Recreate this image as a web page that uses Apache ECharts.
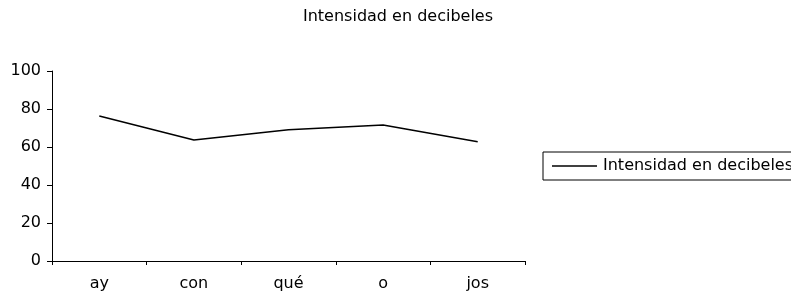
<!DOCTYPE html>
<html>
<head>
<meta charset="utf-8">
<script src="https://cdn.jsdelivr.net/npm/echarts@6/dist/echarts.min.js"></script>
<style>
  html, body { margin: 0; padding: 0; background: #fff; }
  #chart { width: 791px; height: 295px; }
</style>
</head>
<body>
<div id="chart"></div>
<script>
const title = 'Intensidad en decibeles'
const seriesName = 'Intensidad en decibeles'
const categories = ['ay', 'con', 'qué', 'o', 'jos']
const values = [76.3, 63.7, 69.1, 71.6, 62.8]
const yTicks = [0, 20, 40, 60, 80, 100]

const font = 'DejaVu Sans'

const option = {
  animation: false,
  backgroundColor: '#fff',
  title: {
    text: title,
    left: 393,
    textAlign: 'center',
    top: 4,
    textStyle: {
      fontFamily: font,
      fontSize: 16,
      fontWeight: 'normal',
      color: '#000'
    }
  },
  legend: {
    data: [{ name: seriesName, icon: 'rect' }],
    left: 543,
    top: 152,
    orient: 'vertical',
    padding: [6, 9, 6, 9],
    borderColor: '#000',
    borderWidth: 1,
    borderRadius: 0,
    itemWidth: 45,
    itemHeight: 1.5,
    itemGap: 5,
    itemStyle: { color: '#000' },
    textStyle: {
      fontFamily: font,
      fontSize: 16,
      color: '#000',
      padding: [0, 0, 0, 1]
    }
  },
  grid: {
    left: 52,
    right: 266,
    top: 71,
    bottom: 34,
    containLabel: false
  },
  xAxis: {
    type: 'category',
    data: categories,
    boundaryGap: true,
    axisLine: { lineStyle: { color: '#000', width: 1 } },
    axisTick: { show: true, length: 4, lineStyle: { color: '#000' } },
    axisLabel: {
      margin: 15,
      fontFamily: font,
      fontSize: 16,
      color: '#000'
    },
    splitLine: { show: false }
  },
  yAxis: {
    type: 'value',
    min: yTicks[0],
    max: yTicks[yTicks.length - 1],
    interval: yTicks[1] - yTicks[0],
    axisLine: { show: true, lineStyle: { color: '#000', width: 1 } },
    axisTick: { show: true, length: 5, lineStyle: { color: '#000' } },
    axisLabel: {
      margin: 11,
      fontFamily: font,
      fontSize: 16,
      color: '#000'
    },
    splitLine: { show: false }
  },
  series: [
    {
      name: seriesName,
      type: 'line',
      data: values,
      symbol: 'none',
      lineStyle: { color: '#000', width: 1.5 },
      itemStyle: { color: '#000' }
    }
  ]
}

const chart = echarts.init(document.getElementById('chart'), null, { renderer: 'canvas' })
chart.setOption(option)
window.onresize = () => {
  chart.resize()
}
</script>
</body>
</html>
